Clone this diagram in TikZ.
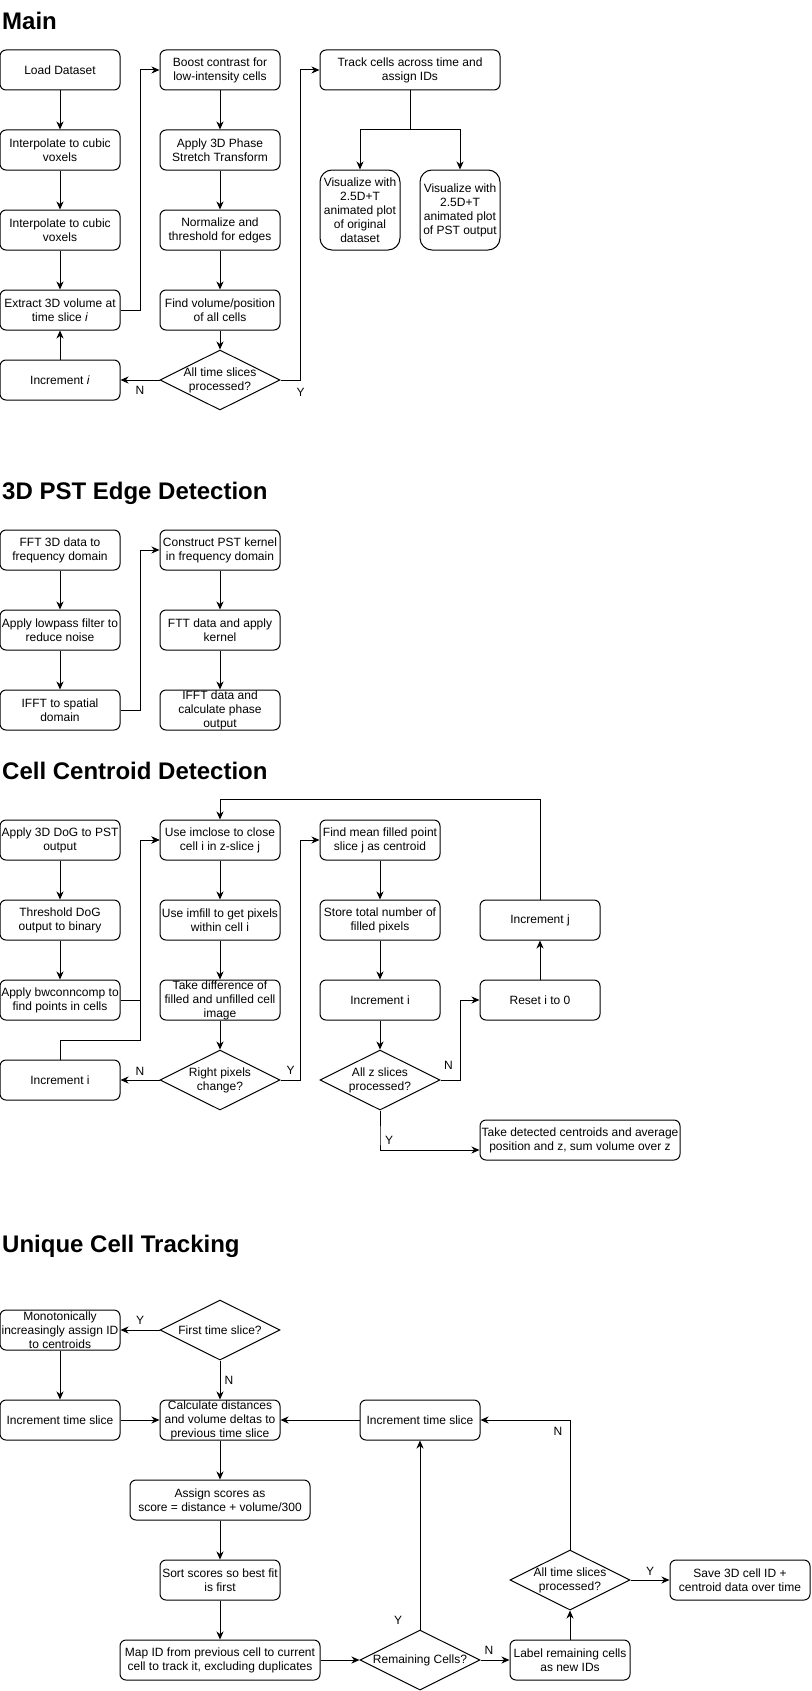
\documentclass[tikz,border=0pt]{standalone}
\usepackage{fontspec}
\setmainfont{Liberation Sans}
\usetikzlibrary{shapes.geometric,arrows.meta,positioning}

\tikzset{
    proc/.style={draw,line width=1pt,rounded corners=6pt,minimum width=120pt,minimum height=40pt,
        inner sep=0pt,align=center,font=\fontsize{12}{14}\selectfont},
    tallproc/.style={proc,minimum width=80pt,minimum height=80pt,rounded corners=12pt},
    decision/.style={draw,line width=1pt,shape=diamond,minimum width=120pt,minimum height=60pt,inner sep=0pt},
    dtext/.style={align=center,inner sep=0pt,font=\fontsize{12}{14}\selectfont},
    heading/.style={inner sep=0pt,anchor=base west,font=\fontsize{24}{28}\selectfont\bfseries},
    lbl/.style={inner sep=0pt,font=\fontsize{12}{14}\selectfont},
    arr/.style={line width=1pt,-{Stealth[length=8pt,width=7pt,inset=2.5pt]}},
    conn/.style={line width=1pt}
}

\begin{document}
\begin{tikzpicture}[x=1pt,y=-1pt]
        \path[use as bounding box,fill=white] (0,0) rectangle (811,1691);
        %main
        \node[heading] (hmain) at (2,29.5) {Main};
        \node[proc] (load) at (60,70) {Load Dataset};
        \node[proc] (interpa) at (60,150) {Interpolate to cubic\\voxels};
        \node[proc] (interpb) at (60,230) {Interpolate to cubic\\voxels};
        \node[proc] (extract) at (60,310) {Extract 3D volume at\\time slice \textit{i}};
        \node[proc] (incr) at (60,380) {Increment \textit{i}};
        \node[proc] (boost) at (220,70) {Boost contrast for\\low-intensity cells};
        \node[proc] (pst) at (220,150) {Apply 3D Phase\\Stretch Transform};
        \node[proc] (norm) at (220,230) {Normalize and\\threshold for edges};
        \node[proc] (findvol) at (220,310) {Find volume/position\\of all cells};
        \node[decision,label={[dtext]center:{All time slices\\processed?}}] (alldone) at (220,380) {};
        \node[proc,minimum width=180pt] (track) at (410,70) {Track cells across time and\\assign IDs};
        \node[tallproc] (visa) at (360,210) {Visualize with\\2.5D+T\\animated plot\\of original\\dataset};
        \node[tallproc] (visb) at (460,210) {Visualize with\\2.5D+T\\animated plot\\of PST output};
        \coordinate (trsplit) at (410,130);
        \draw[arr] (load) -- (interpa);
        \draw[arr] (interpa) -- (interpb);
        \draw[arr] (interpb) -- (extract);
        \draw[arr] (incr) -- (extract);
        \draw[arr] (extract.east) -- ++(20,0) |- (boost.west);
        \draw[arr] (boost) -- (pst);
        \draw[arr] (pst) -- (norm);
        \draw[arr] (norm) -- (findvol);
        \draw[arr] (findvol) -- (alldone);
        \draw[arr] (alldone.west) -- (incr.east) node[lbl,midway,yshift=-10pt] {N};
        \draw[arr] (alldone.east) -- ++(20,0) node[lbl,pos=1,yshift=-12pt] {Y} |- (track.west);
        \draw[conn] (track.south) -- (trsplit);
        \draw[arr] (trsplit) -| (visa.north);
        \draw[arr] (trsplit) -| (visb.north);

        %3d pst edge detection
        \node[heading] (hpst) at (2,499) {3D PST Edge Detection};
        \node[proc] (fft) at (60,550) {FFT 3D data to\\frequency domain};
        \node[proc] (lowpass) at (60,630) {Apply lowpass filter to\\reduce noise};
        \node[proc] (ifft) at (60,710) {IFFT to spatial\\domain};
        \node[proc] (kernel) at (220,550) {Construct PST kernel\\in frequency domain};
        \node[proc] (ftt) at (220,630) {FTT data and apply\\kernel};
        \node[proc] (phase) at (220,710) {IFFT data and\\calculate phase\\output};
        \draw[arr] (fft) -- (lowpass);
        \draw[arr] (lowpass) -- (ifft);
        \draw[arr] (ifft.east) -- ++(20,0) |- (kernel.west);
        \draw[arr] (kernel) -- (ftt);
        \draw[arr] (ftt) -- (phase);

        %cell centroid detection
        \node[heading] (hcent) at (2,779) {Cell Centroid Detection};
        \node[proc] (dog) at (60,840) {Apply 3D DoG to PST\\output};
        \node[proc] (thresh) at (60,920) {Threshold DoG\\output to binary};
        \node[proc] (bwcc) at (60,1000) {Apply bwconncomp to\\find points in cells};
        \node[proc] (incri) at (60,1080) {Increment i};
        \node[proc] (imclose) at (220,840) {Use imclose to close\\cell i in z-slice j};
        \node[proc] (imfill) at (220,920) {Use imfill to get pixels\\within cell i};
        \node[proc] (diff) at (220,1000) {Take difference of\\filled and unfilled cell\\image};
        \node[decision,label={[dtext]center:{Right pixels\\change?}}] (rightpx) at (220,1080) {};
        \node[proc] (mean) at (380,840) {Find mean filled point\\slice j as centroid};
        \node[proc] (store) at (380,920) {Store total number of\\filled pixels};
        \node[proc] (incrib) at (380,1000) {Increment i};
        \node[decision,label={[dtext]center:{All z slices\\processed?}}] (allz) at (380,1080) {};
        \node[proc] (incrj) at (540,920) {Increment j};
        \node[proc] (reset) at (540,1000) {Reset i to 0};
        \node[proc,minimum width=200pt] (takecent) at (580,1140) {Take detected centroids and average\\position and z, sum volume over z};
        \coordinate (ccjoin) at (140,1040);
        \draw[arr] (dog) -- (thresh);
        \draw[arr] (thresh) -- (bwcc);
        \draw[arr] (bwcc.east) -- ++(20,0) |- (imclose.west);
        \draw[arr] (incri.north) |- (ccjoin) |- (imclose.west);
        \draw[arr] (imclose) -- (imfill);
        \draw[arr] (imfill) -- (diff);
        \draw[arr] (diff) -- (rightpx);
        \draw[arr] (rightpx.west) -- (incri.east) node[lbl,midway,yshift=9pt] {N};
        \draw[arr] (rightpx.east) -- ++(20,0) node[lbl,midway,yshift=10pt] {Y} |- (mean.west);
        \draw[arr] (mean) -- (store);
        \draw[arr] (store) -- (incrib);
        \draw[arr] (incrib) -- (allz);
        \draw[arr] (allz.east) -- ++(20,0) node[lbl,midway,xshift=-2pt,yshift=15pt] {N} |- (reset.west);
        \draw[arr] (allz.south) -- ++(0,30) node[lbl,pos=1,xshift=9pt] {Y} |- ([yshift=-10pt]takecent.west);
        \draw[arr] (reset) -- (incrj);
        \draw[arr] (incrj.north) -- ++(0,-100) -| (imclose.north);

        %unique cell tracking
        \node[heading] (htrack) at (2,1252) {Unique Cell Tracking};
        \node[decision,label={[dtext]center:{First time slice?}}] (firstq) at (220,1330) {};
        \node[proc] (mono) at (60,1330) {Monotonically\\increasingly assign ID\\to centroids};
        \node[proc] (inctsa) at (60,1420) {Increment time slice};
        \node[proc] (calc) at (220,1420) {Calculate distances\\and volume deltas to\\previous time slice};
        \node[proc] (inctsb) at (420,1420) {Increment time slice};
        \node[proc,minimum width=180pt] (assign) at (220,1500) {Assign scores as\\score = distance + volume/300};
        \node[proc] (sortsc) at (220,1580) {Sort scores so best fit\\is first};
        \node[proc,minimum width=200pt] (mapid) at (220,1660) {Map ID from previous cell to current\\cell to track it, excluding duplicates};
        \node[decision,label={[dtext]center:{Remaining Cells?}}] (remain) at (420,1660) {};
        \node[proc] (labelrem) at (570,1660) {Label remaining cells\\as new IDs};
        \node[decision,label={[dtext]center:{All time slices\\processed?}}] (alltime) at (570,1580) {};
        \node[proc,minimum width=140pt] (save) at (740,1580) {Save 3D cell ID +\\centroid data over time};
        \draw[arr] (firstq.west) -- (mono.east) node[lbl,midway,yshift=10pt] {Y};
        \draw[arr] (firstq.south) -- (calc.north) node[lbl,midway,xshift=9pt] {N};
        \draw[arr] (mono) -- (inctsa);
        \draw[arr] (inctsa) -- (calc);
        \draw[arr] (inctsb) -- (calc);
        \draw[arr] (calc) -- (assign);
        \draw[arr] (assign) -- (sortsc);
        \draw[arr] (sortsc) -- (mapid);
        \draw[arr] (mapid) -- (remain);
        \draw[arr] (remain.north) -- (inctsb.south) node[lbl,pos=0.05,xshift=-22pt] {Y};
        \draw[arr] (remain.east) -- (labelrem.west) node[lbl,midway,xshift=-6pt,yshift=10pt] {N};
        \draw[arr] (labelrem) -- (alltime);
        \draw[arr] (alltime.east) -- (save.west) node[lbl,midway,yshift=9pt] {Y};
        \draw[arr] (alltime.north) |- (inctsb.east) node[lbl,pos=0.5,xshift=-12pt,yshift=-11pt] {N};
    \end{tikzpicture}
\end{document}
